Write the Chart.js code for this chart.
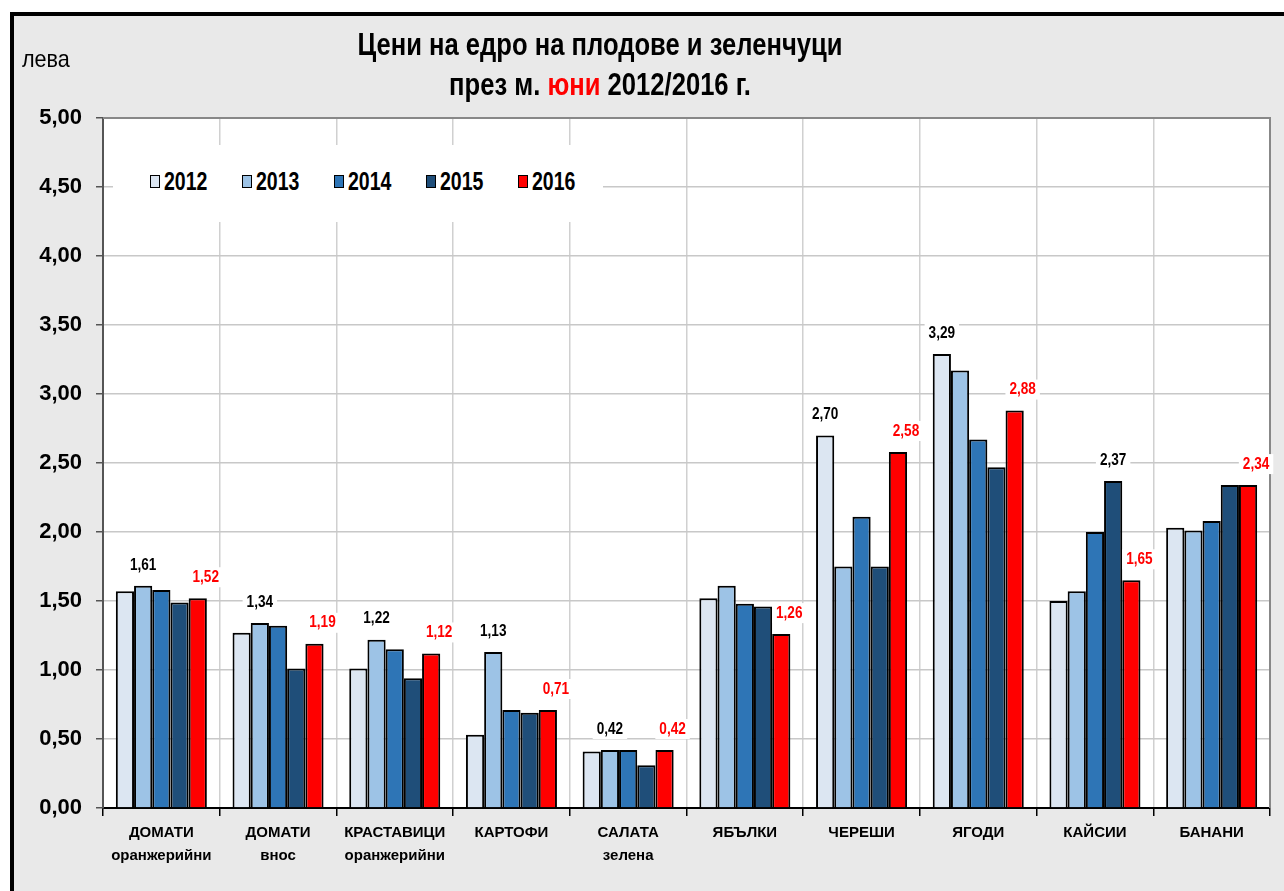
<!DOCTYPE html>
<html>
<head>
<meta charset="utf-8">
<script src="https://cdn.jsdelivr.net/npm/chart.js@4.4.1/dist/chart.umd.min.js"></script>
<style>
  html, body { margin: 0; padding: 0; background: #fff; }
  body { width: 1284px; height: 891px; position: relative; overflow: hidden;
         font-family: "Liberation Sans", Arial, sans-serif; }
  #frame { position: absolute; left: 10px; top: 12px; width: 1274px; height: 879px;
           border-left: 4px solid #000; border-top: 4px solid #000; background: #e9e9e9; }
  #chart { position: absolute; left: 0; top: 0; }
  .title { position: absolute; left: 0; width: 1200px; text-align: center; font-weight: bold;
           font-size: 32px; color: #000; white-space: nowrap; transform: scaleX(0.8); transform-origin: 600px 0; }
  .title .red { color: #ff0000; }
  #unit { position: absolute; left: 22px; top: 45px; font-size: 24px; color: #000;
          transform: scaleX(0.9); transform-origin: 0 0; }
  #legend { position: absolute; left: 113px; top: 145px; width: 490px; height: 77px; background: #fff; }
  #legend .item { position: absolute; top: 22px; display: flex; align-items: center;
                  font-weight: bold; font-size: 25px; color: #000; }
  #legend .sw { width: 8px; height: 11px; border: 1.5px solid #000; margin-right: 4px; }
  #legend .txt { display: inline-block; transform: scaleX(0.78); transform-origin: 0 50%; }
</style>
</head>
<body>
<div id="frame"></div>
<canvas id="chart" width="1284" height="891"></canvas>
<div class="title" style="top:26px">Цени на едро на плодове и зеленчуци</div>
<div class="title" style="top:66px">през м. <span class="red">юни</span> 2012/2016 г.</div>
<div id="unit">лева</div>
<div id="legend"></div>
<script>
// ---------------------------------------------------------------------------
// Data
// ---------------------------------------------------------------------------
const categories = [
  ["ДОМАТИ", "оранжерийни"], ["ДОМАТИ", "внос"], ["КРАСТАВИЦИ", "оранжерийни"],
  ["КАРТОФИ"], ["САЛАТА", "зелена"], ["ЯБЪЛКИ"], ["ЧЕРЕШИ"], ["ЯГОДИ"],
  ["КАЙСИИ"], ["БАНАНИ"]
];
const years = ["2012", "2013", "2014", "2015", "2016"];
const v2012 = [1.57, 1.27, 1.01, 0.53, 0.41, 1.52, 2.70, 3.29, 1.50, 2.03];
const v2013 = [1.61, 1.34, 1.22, 1.13, 0.42, 1.61, 1.75, 3.17, 1.57, 2.01];
const v2014 = [1.58, 1.32, 1.15, 0.71, 0.42, 1.48, 2.11, 2.67, 2.00, 2.08];
const v2015 = [1.49, 1.01, 0.94, 0.69, 0.31, 1.46, 1.75, 2.47, 2.37, 2.34];
const v2016 = [1.52, 1.19, 1.12, 0.71, 0.42, 1.26, 2.58, 2.88, 1.65, 2.34];
// series index that carries the black (highest) label in each group, null = none
const peakSeries = [1, 1, 1, 1, 1, null, 0, 0, 3, null];
const yTicks = [0, 0.5, 1, 1.5, 2, 2.5, 3, 3.5, 4, 4.5, 5];

const colors = ["#dce6f2", "#9dc3e6", "#2e75b6", "#1f4e79", "#ff0000"];
const series = [v2012, v2013, v2014, v2015, v2016];
const FONT = "'Liberation Sans', Arial, sans-serif";
const fmt = v => v.toFixed(2).replace(".", ",");

// legend (html, white box over the grid)
const legendEl = document.getElementById("legend");
years.forEach((y, i) => {
  const it = document.createElement("div");
  it.className = "item";
  it.style.left = (37 + i * 92) + "px";
  it.innerHTML = `<span class="sw" style="background:${colors[i]}"></span><span class="txt">${y}</span>`;
  legendEl.appendChild(it);
});

// ---------------------------------------------------------------------------
// Plugins
// ---------------------------------------------------------------------------
const plotBg = {
  id: "plotBg",
  beforeDraw(chart) {
    const { ctx, chartArea: a } = chart;
    ctx.save();
    ctx.fillStyle = "#fff";
    ctx.fillRect(a.left, a.top, a.right - a.left, a.bottom - a.top);
    ctx.restore();
  },
  beforeDatasetsDraw(chart) {
    const { ctx, chartArea: a } = chart;
    ctx.save();
    ctx.strokeStyle = "#888";
    ctx.lineWidth = 2;
    ctx.beginPath();
    ctx.moveTo(a.left, a.top);
    ctx.lineTo(a.right, a.top);
    ctx.lineTo(a.right, a.bottom);
    ctx.stroke();
    ctx.restore();
  }
};

const valueLabels = {
  id: "valueLabels",
  afterDatasetsDraw(chart) {
    const { ctx } = chart;
    const put = (ds, i, color, dx) => {
      const bar = chart.getDatasetMeta(ds).data[i];
      const txt = fmt(series[ds][i]);
      ctx.save();
      ctx.font = "bold 17px " + FONT;
      ctx.textAlign = "center";
      ctx.textBaseline = "middle";
      ctx.translate(bar.x + dx, bar.y - 21);
      ctx.scale(0.8, 1);
      const w = ctx.measureText(txt).width + 10;
      ctx.fillStyle = "#fff";
      ctx.fillRect(-w / 2, -10, w, 20);
      ctx.fillStyle = color;
      ctx.fillText(txt, 0, 0);
      ctx.restore();
    };
    categories.forEach((c, i) => {
      if (peakSeries[i] !== null) put(peakSeries[i], i, "#000", 0);
      put(4, i, "#ff0000", 8);
    });
  }
};

// ---------------------------------------------------------------------------
// Chart
// ---------------------------------------------------------------------------
new Chart(document.getElementById("chart"), {
  type: "bar",
  data: {
    labels: categories,
    datasets: years.map((y, i) => ({
      label: y,
      data: series[i],
      backgroundColor: colors[i],
      borderColor: "#000",
      borderWidth: 2,
      categoryPercentage: 0.78,
      barPercentage: 1.0,
    }))
  },
  options: {
    responsive: false,
    devicePixelRatio: 1,
    animation: false,
    layout: { padding: { left: 13, right: 14, top: 118, bottom: 13 } },
    plugins: { legend: { display: false }, tooltip: { enabled: false } },
    scales: {
      x: {
        afterFit(scale) { scale.height = 70; },
        grid: { offset: true, color: "#d0d0d0", lineWidth: 1.5, tickLength: 8, tickColor: "#000" },
        border: { color: "#000", width: 2 },
        ticks: { color: "#000", padding: 6, maxRotation: 0, autoSkip: false,
                 font: { family: FONT, size: 15, weight: "bold", lineHeight: 1.5 } },
      },
      y: {
        min: 0, max: 5,
        afterFit(scale) { scale.width = 90; },
        afterBuildTicks(scale) { scale.ticks = yTicks.map(v => ({ value: v })); },
        grid: { color: "#c8c8c8", lineWidth: 1.5, tickLength: 7, tickColor: "#555" },
        border: { color: "#555", width: 2 },
        ticks: { color: "#000", padding: 14, callback: v => fmt(v),
                 font: { family: FONT, size: 22, weight: "bold" } },
      }
    }
  },
  plugins: [plotBg, valueLabels]
});
</script>
</body>
</html>
